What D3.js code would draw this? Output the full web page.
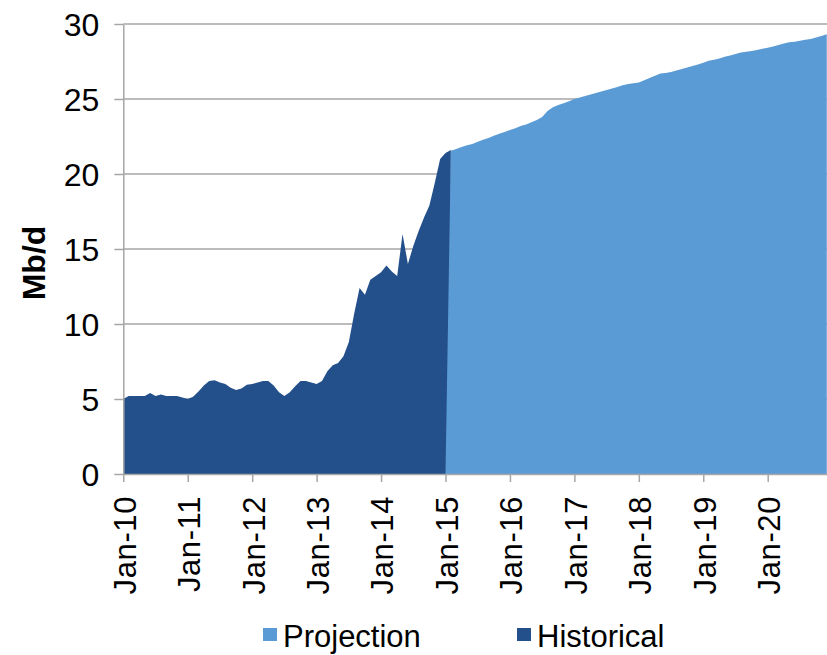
<!DOCTYPE html>
<html>
<head>
<meta charset="utf-8">
<script src="https://cdn.jsdelivr.net/npm/d3@7"></script>
<style>
  body { margin: 0; background: #fff; }
  svg { display: block; }
  text { font-family: "Liberation Sans", Arial, Helvetica, sans-serif; fill: #000; }
</style>
</head>
<body>
<svg id="chart" width="827" height="655"></svg>
<script>
// Monthly production, Mb/d. Historical starts Jan-10 (month index 0).
const historical = [
  5.0, 5.2, 5.2, 5.2, 5.2, 5.4, 5.2, 5.3, 5.2, 5.2, 5.2, 5.1,
  5.0, 5.15, 5.5, 5.9, 6.2, 6.25, 6.1, 6.0, 5.75, 5.6, 5.7, 5.95,
  6.0, 6.1, 6.2, 6.2, 5.9, 5.45, 5.2, 5.45, 5.85, 6.2, 6.2, 6.1,
  6.0, 6.2, 6.85, 7.25, 7.4, 7.85, 8.8, 10.7, 12.4, 11.95, 12.95, 13.2,
  13.45, 13.9, 13.5, 13.2, 16.0, 14.0, 15.2, 16.2, 17.1, 17.9, 19.4, 21.0,
  21.4, 21.6
];

// Projection starts at month index 60 (Jan-15).
const projectionStart = 60;
const projection = [
  0, 21.55, 21.67, 21.8, 21.92, 22.0, 22.15, 22.28, 22.4, 22.55, 22.68, 22.8,
  22.93, 23.05, 23.2, 23.3, 23.45, 23.6, 23.8, 24.2, 24.45, 24.6, 24.72, 24.85,
  25.0, 25.1, 25.2, 25.3, 25.4, 25.5, 25.6, 25.7, 25.8, 25.92, 26.0, 26.05,
  26.1, 26.25, 26.4, 26.55, 26.7, 26.73, 26.8, 26.9, 27.0, 27.1, 27.2, 27.3,
  27.42, 27.55, 27.62, 27.7, 27.82, 27.9, 28.0, 28.1, 28.15, 28.2, 28.27, 28.35,
  28.42, 28.5, 28.6, 28.7, 28.78, 28.82, 28.88, 28.95, 29.0, 29.1, 29.2, 29.32
];

const yTicks = [0, 5, 10, 15, 20, 25, 30];
const xTickLabels = ["Jan-10", "Jan-11", "Jan-12", "Jan-13", "Jan-14", "Jan-15",
                     "Jan-16", "Jan-17", "Jan-18", "Jan-19", "Jan-20"];
const legendNames = ["Projection", "Historical"];

const colorHist = "#23508b";
const colorProj = "#5b9bd5";
const gridColor = "#a6a6a6";

const svg = d3.select("#chart");
svg.append("rect").attr("width", 827).attr("height", 655).attr("fill", "#fff");

const plotLeft = 123.3, plotBottom = 474, plotTop = 24;
const monthW = 5.37;
const x = d3.scaleLinear().domain([0, 132]).range([plotLeft, plotLeft + 132 * monthW]);
const y = d3.scaleLinear().domain([0, 30]).range([plotBottom, plotTop]);

// Horizontal gridlines
svg.append("g").selectAll("line").data(yTicks.filter(d => d > 0)).join("line")
  .attr("x1", plotLeft).attr("x2", 827)
  .attr("y1", d => y(d)).attr("y2", d => y(d))
  .attr("stroke", gridColor).attr("stroke-width", 1.5);

// Areas
const histData = historical.map((v, i) => ({ i, v }));
const projData = projection.map((v, k) => ({ i: projectionStart + k, v }));
const area = d3.area().x(d => x(d.i)).y0(y(0)).y1(d => y(d.v));

svg.append("path").datum(histData).attr("d", area).attr("fill", colorHist);
svg.append("path").datum(projData).attr("d", area).attr("fill", colorProj);

// Y axis
const yAxis = d3.axisLeft(y).tickValues(yTicks).tickSize(9).tickSizeOuter(0).tickFormat(d3.format("d"));
const gy = svg.append("g").attr("transform", `translate(${plotLeft},0)`).call(yAxis);
gy.select(".domain").attr("stroke", gridColor).attr("stroke-width", 1.5);
gy.selectAll(".tick line").attr("stroke", gridColor).attr("stroke-width", 1.5);
gy.selectAll(".tick text")
  .attr("x", -24).attr("dy", "0.35em")
  .style("font-size", "32px").attr("fill", "#000");

// X axis
const xTickVals = xTickLabels.map((_, k) => k * 12);
const xAxis = d3.axisBottom(x).tickValues(xTickVals).tickSize(8).tickSizeOuter(0)
  .tickFormat((d, k) => xTickLabels[k]);
const gx = svg.append("g").attr("transform", `translate(0,${plotBottom})`).call(xAxis);
gx.select(".domain").attr("stroke", gridColor).attr("stroke-width", 1.5);
gx.selectAll(".tick line").attr("stroke", gridColor).attr("stroke-width", 1.5);
gx.selectAll(".tick text")
  .attr("transform", "translate(1,22) rotate(-90)")
  .attr("x", 0).attr("y", 0).attr("dy", "0.35em")
  .attr("text-anchor", "end")
  .style("font-size", "31px").style("letter-spacing", "0.6px").attr("fill", "#000");

// Y axis title
svg.append("text")
  .attr("transform", "translate(34,263) rotate(-90)")
  .attr("text-anchor", "middle").attr("dy", "0.35em")
  .style("font-size", "32px").style("font-weight", "bold")
  .text("Mb/d");

// Legend
const legend = svg.append("g");
const legendItems = [
  { name: legendNames[0], color: colorProj, x: 263 },
  { name: legendNames[1], color: colorHist, x: 517 }
];
legendItems.forEach(it => {
  legend.append("rect").attr("x", it.x).attr("y", 628).attr("width", 14).attr("height", 13).attr("fill", it.color);
  legend.append("text").attr("x", it.x + 20).attr("y", 647)
    .style("font-size", "31px").text(it.name);
});
</script>
</body>
</html>
